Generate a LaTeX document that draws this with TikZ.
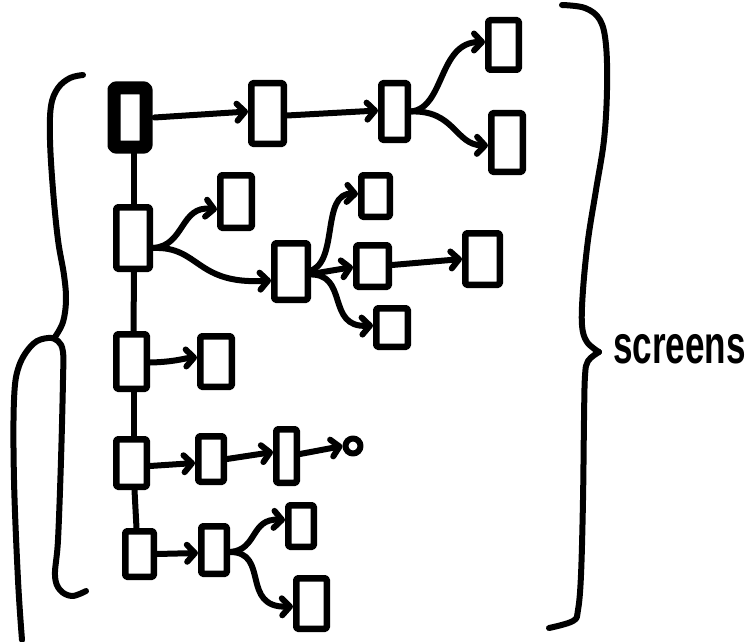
\documentclass[tikz,border=0pt]{standalone}
\usepackage{graphicx}
\usepackage{fontspec}
\setmainfont{Liberation Sans}
\usetikzlibrary{arrows.meta,calc}
\begin{document}
\begin{tikzpicture}[x=1pt,y=-1pt,
  line cap=round, line join=round,
  scr/.style={draw, line width=6.5pt, inner sep=0pt, rectangle, rounded corners=1.5pt},
  rootbox/.style={draw, line width=13pt, inner sep=0pt, rectangle, rounded corners=1.5pt},
  endpt/.style={draw, line width=6pt, circle, inner sep=0pt, minimum size=15pt},
  conn/.style={line width=6pt, -{Straight Barb[length=8pt,width=17pt,round]}},
  link/.style={line width=6pt},
  brace/.style={line width=6pt}
]
\useasboundingbox (0,0) rectangle (753,642);

% nodes
\node[rootbox, minimum width=32pt, minimum height=59pt] (root) at (130,117.5) {};
\node[scr, minimum width=32.5pt, minimum height=60.5pt] (A1) at (267.5,113.5) {};
\node[scr, minimum width=26.5pt, minimum height=56.5pt] (A2) at (394.5,111.5) {};
\node[scr, minimum width=30.5pt, minimum height=49.5pt] (A3) at (503.5,45) {};
\node[scr, minimum width=31.5pt, minimum height=58.5pt] (A4) at (507,142.5) {};
\node[scr, minimum width=33.5pt, minimum height=61.5pt] (B1) at (133,238) {};
\node[scr, minimum width=31.5pt, minimum height=52.5pt] (B2) at (236,201.5) {};
\node[scr, minimum width=33.5pt, minimum height=56.5pt] (B3) at (291,271.5) {};
\node[scr, minimum width=28.5pt, minimum height=41.5pt] (C1) at (375.5,196) {};
\node[scr, minimum width=32.5pt, minimum height=41.5pt] (C2) at (372.5,266) {};
\node[scr, minimum width=31.5pt, minimum height=38.5pt] (C3) at (392,327.5) {};
\node[scr, minimum width=34.5pt, minimum height=51.5pt] (C4) at (482.5,259) {};
\node[scr, minimum width=30.5pt, minimum height=54.5pt] (D1) at (131.5,361.5) {};
\node[scr, minimum width=31.5pt, minimum height=50.5pt] (D2) at (216,361.5) {};
\node[scr, minimum width=30.5pt, minimum height=47.5pt] (E1) at (131.5,463) {};
\node[scr, minimum width=25.5pt, minimum height=45.5pt] (E2) at (211,459) {};
\node[scr, minimum width=20.5pt, minimum height=53.5pt] (E3) at (286.5,456) {};
\node[endpt] (E4) at (353,446) {};
\node[scr, minimum width=28.5pt, minimum height=45.5pt] (F1) at (139.5,554) {};
\node[scr, minimum width=25.5pt, minimum height=47.5pt] (F2) at (214,550) {};
\node[scr, minimum width=25.5pt, minimum height=41.5pt] (F3) at (301,526) {};
\node[scr, minimum width=30.5pt, minimum height=50.5pt] (F4) at (311.5,603.5) {};

% trunk
\draw[link] ($(root.south)+(4,0)$) -- ($(B1.north)+(1,0)$);
\draw[link] ($(B1.south)+(1,0)$) -- ($(D1.north)+(2,0)$);
\draw[link] ($(D1.south)+(2,0)$) -- ($(E1.north)+(2,0)$);
\draw[link] ($(E1.south)+(3,0)$) -- ($(F1.north)+(-3,0)$);

% connectors
\draw[conn] ($(root.east)+(2,0)$) -- ($(A1.west)+(0,-2)$);
\draw[conn] ($(A1.east)+(0,2)$) -- ($(A2.west)+(0,-1)$);
\draw[conn] (A2.east) .. controls (445,108) and (438,42) .. ($(A3.west)+(0,-3)$);
\draw[conn] (A2.east) .. controls (455,110) and (455,145) .. ($(A4.west)+(0,3)$);

\draw[conn] ($(B1.east)+(0,10)$) .. controls (185,246) and (180,205) .. ($(B2.west)+(0,8)$);
\draw[conn] ($(B1.east)+(0,10)$) .. controls (200,246) and (195,285) .. ($(B3.west)+(0,9)$);

\draw[conn] ($(B3.east)+(-3,0)$) .. controls (340,265) and (320,192) .. ($(C1.west)+(0,-2)$);
\draw[conn] ($(B3.east)+(-3,3)$) -- ($(C2.west)+(0,1)$);
\draw[conn] ($(B3.east)+(-3,3)$) .. controls (350,272) and (325,328) .. ($(C3.west)+(0,-2)$);
\draw[conn] ($(C2.east)+(0,-1)$) -- ($(C4.west)+(0,0)$);

\draw[conn] ($(D1.east)+(0,1)$) .. controls (175,362) and (185,358) .. ($(D2.west)+(0,-4)$);
\draw[conn] ($(E1.east)+(0,3)$) -- ($(E2.west)+(0,4)$);
\draw[conn] ($(E2.east)+(0,0)$) -- ($(E3.west)+(0,-4)$);
\draw[conn] ($(E3.east)+(0,-2)$) -- (E4.west);

\draw[conn] (F1.east) -- ($(F2.west)+(0,3)$);
\draw[conn] ($(F2.east)+(0,2)$) .. controls (258,550) and (250,518) .. ($(F3.west)+(0,-6)$);
\draw[conn] ($(F2.east)+(0,2)$) .. controls (270,552) and (240,608) .. ($(F4.west)+(0,3)$);

% left braces
\draw[brace] plot[smooth, tension=0.6] coordinates {(83,75) (70,78) (58,88) (51,106) (50,140) (53,190) (58,240) (64,275) (66,300) (63,322) (55,337)};
\draw[brace] plot[smooth, tension=0.6] coordinates {(22,640) (18,580) (14,480) (14,400) (19,366) (33,344) (48,338) (58,341) (63,352) (63,380) (61,460) (58,540) (55,575) (60,590) (72,596) (86,591)};

% right brace
\draw[brace] plot[smooth, tension=0.6] coordinates {(562,5) (585,8) (600,20) (606,45) (607,90) (604,140) (596,190) (588,240) (583,290) (582,325) (587,342) (599,352)};
\draw[brace] plot[smooth, tension=0.6] coordinates {(599,352) (588,361) (585,376) (584,420) (583,500) (581,575) (578,610) (573,621) (549,628)};

% label
\node[anchor=base west, inner sep=0pt] (lbl) at (613,363) {\scalebox{0.65}[1]{\fontsize{54}{54}\selectfont\bfseries screens}};
\end{tikzpicture}
\end{document}
